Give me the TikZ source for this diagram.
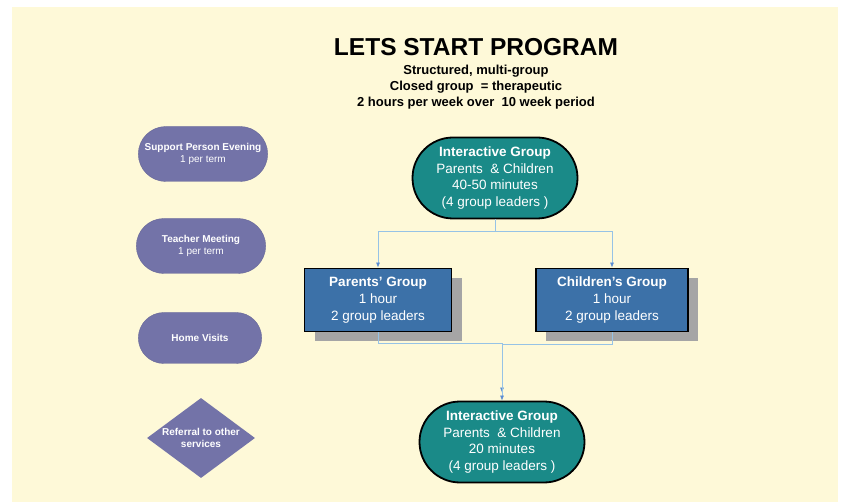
\documentclass[tikz,border=0pt]{standalone}
\usepackage{fontspec}
\setmainfont{Liberation Sans}
\usetikzlibrary{shapes.misc,shapes.geometric,shadows,arrows.meta}
\definecolor{lscream}{RGB}{254,249,216}
\definecolor{lsslate}{RGB}{115,115,168}
\definecolor{lsteal}{RGB}{26,138,136}
\definecolor{lsblue}{RGB}{60,113,168}
\definecolor{lsgray}{RGB}{165,165,165}
\definecolor{lsline}{RGB}{150,195,230}
\definecolor{lsarrow}{RGB}{90,140,210}

\begin{document}
\begin{tikzpicture}[x=1pt,y=-1pt,
  extra/.style={rounded rectangle, fill=lsslate, draw=lsslate!90!black, text=white, align=center,
    minimum width=136, minimum height=55, font=\fontsize{10}{12}\selectfont},
  session/.style={rounded rectangle, fill=lsteal, draw=black, line width=1.8pt, text=white, align=center,
    minimum width=169, minimum height=81, inner sep=2pt, font=\fontsize{13.5}{16.7}\selectfont},
  split/.style={rectangle, fill=lsblue, draw=black, line width=1.8pt, text=white, align=center,
    minimum width=147, minimum height=63, font=\fontsize{13.5}{17}\selectfont,
    drop shadow={shadow xshift=10pt, shadow yshift=-10pt, fill=lsgray, opacity=1}},
  link/.style={draw=lsline, line width=0.7pt, -{Latex[length=5pt,width=4pt,color=lsarrow]}}]
% Background
\useasboundingbox (0,0) rectangle (843,502);
\fill[white] (0,0) rectangle (843,502);
\fill[lscream] (12,7) rectangle (838,502);

% Title
\node[font=\fontsize{24.5}{28}\selectfont\bfseries] (title) at (476,47) {LETS START PROGRAM};
\node[font=\fontsize{13}{16}\selectfont\bfseries, align=center] (subtitle) at (476,87)
  {Structured, multi-group\\Closed group\ \ = therapeutic\\2 hours per week over\ \ 10 week period};

% Extra services
\node[extra] (support) at (203,154) {\textbf{Support Person Evening}\\1 per term};
\node[extra] (teacher) at (201,246) {\textbf{Teacher Meeting}\\1 per term};
\node[extra, minimum width=130, minimum height=51] (visits) at (200,338) {\textbf{Home Visits}};
\node[diamond, fill=lsslate, text=white, align=center, inner sep=0pt, aspect=1.35,
  minimum width=108, minimum height=80, font=\fontsize{10}{12}\selectfont\bfseries] (referral) at (201,438)
  {Referral to other\\services};

% Interactive groups
\node[session] (inter1) at (495,178) {\textbf{Interactive Group}\\Parents\ \ \& Children\\40-50 minutes\\(4 group leaders )};
\node[session] (inter2) at (502,442) {\textbf{Interactive Group}\\Parents\ \ \& Children\\20 minutes\\(4 group leaders )};

% Separate groups
\node[split] (parents) at (378,300) {\textbf{Parents’ Group}\\1 hour\\2 group leaders};
\node[split, minimum width=152] (children) at (612,300) {\textbf{Children’s Group}\\1 hour\\2 group leaders};

% Connectors
\draw[link] (inter1.south) -- ++(0,12) -| (parents.north);
\draw[link] (inter1.south) -- ++(0,12) -| (children.north);
\draw[link, shorten >=8pt] (parents.south) -- ++(0,11) -| (inter2.north);
\draw[link] (children.south) -- ++(0,12) -| (inter2.north);
\end{tikzpicture}
\end{document}
